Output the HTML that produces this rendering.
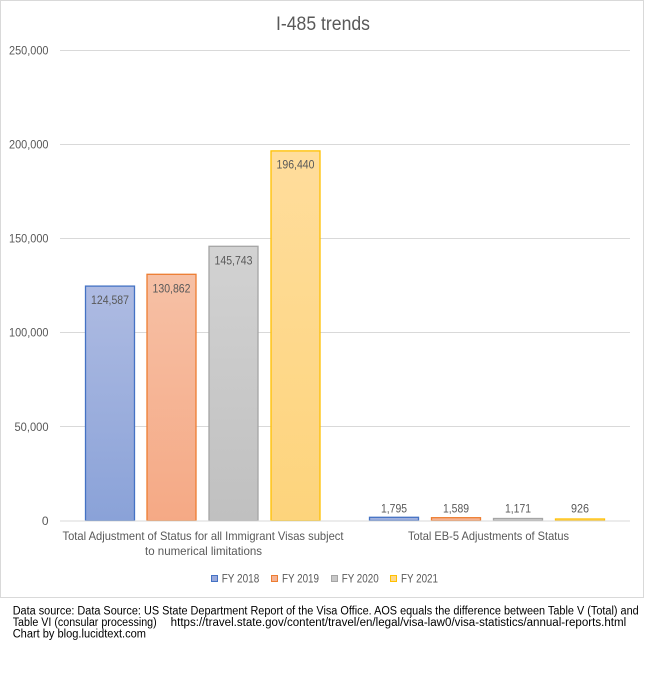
<!DOCTYPE html>
<html><head><meta charset="utf-8"><style>
html,body{margin:0;padding:0;background:#fff;}
svg{display:block;}
text{font-family:"Liberation Sans",sans-serif;}
</style></head><body>
<svg width="645" height="674" viewBox="0 0 645 674" xmlns="http://www.w3.org/2000/svg">
<defs>
<linearGradient id="gb" x1="0" y1="0" x2="0" y2="1"><stop offset="0" stop-color="#aebbe2"/><stop offset="1" stop-color="#8aa2d8"/></linearGradient>
<linearGradient id="go" x1="0" y1="0" x2="0" y2="1"><stop offset="0" stop-color="#f6c0a5"/><stop offset="1" stop-color="#f5a985"/></linearGradient>
<linearGradient id="gg" x1="0" y1="0" x2="0" y2="1"><stop offset="0" stop-color="#d2d2d2"/><stop offset="1" stop-color="#c0c0c0"/></linearGradient>
<linearGradient id="gy" x1="0" y1="0" x2="0" y2="1"><stop offset="0" stop-color="#ffdd9c"/><stop offset="1" stop-color="#fdd47c"/></linearGradient>
</defs>
<rect x="0.5" y="0.5" width="643" height="597" fill="#fff" stroke="#d9d9d9" stroke-width="1"/>
<text x="323" y="30" font-size="19" fill="#595959" text-anchor="middle" textLength="94" lengthAdjust="spacingAndGlyphs">I-485 trends</text>
<g stroke="#d9d9d9" stroke-width="1">
<line x1="60" y1="50.5" x2="630" y2="50.5"/>
<line x1="60" y1="144.5" x2="630" y2="144.5"/>
<line x1="60" y1="238.5" x2="630" y2="238.5"/>
<line x1="60" y1="332.5" x2="630" y2="332.5"/>
<line x1="60" y1="426.5" x2="630" y2="426.5"/>
</g>
<g font-size="12" fill="#595959" text-anchor="end">
<text x="48.5" y="54.5" textLength="39.5" lengthAdjust="spacingAndGlyphs">250,000</text>
<text x="48.5" y="148.5" textLength="39.5" lengthAdjust="spacingAndGlyphs">200,000</text>
<text x="48.5" y="242.5" textLength="39.5" lengthAdjust="spacingAndGlyphs">150,000</text>
<text x="48.5" y="336.5" textLength="39.5" lengthAdjust="spacingAndGlyphs">100,000</text>
<text x="48.5" y="431" textLength="34" lengthAdjust="spacingAndGlyphs">50,000</text>
<text x="48.5" y="525">0</text>
</g>
<g stroke-width="1.3">
<rect x="85.5" y="286.1" width="49" height="234.6" fill="url(#gb)" stroke="#4472c4"/>
<rect x="147" y="274.3" width="49" height="246.4" fill="url(#go)" stroke="#ed7d31"/>
<rect x="209" y="246.3" width="49" height="274.4" fill="url(#gg)" stroke="#a5a5a5"/>
<rect x="271" y="150.9" width="49" height="369.8" fill="url(#gy)" stroke="#ffc000"/>
<rect x="369.5" y="517.3" width="49" height="3.4" fill="url(#gb)" stroke="#4472c4"/>
<rect x="431.5" y="517.7" width="49" height="3" fill="url(#go)" stroke="#ed7d31"/>
<rect x="493.5" y="518.5" width="49" height="2.2" fill="url(#gg)" stroke="#a5a5a5"/>
<rect x="555.5" y="519" width="49" height="1.7" fill="url(#gy)" stroke="#ffc000"/>
</g>
<line x1="60" y1="521" x2="630" y2="521" stroke="#d9d9d9" stroke-width="1"/>
<g font-size="12" fill="#595959" text-anchor="middle">
<text x="110" y="304" textLength="38" lengthAdjust="spacingAndGlyphs">124,587</text>
<text x="171.5" y="292.3" textLength="38" lengthAdjust="spacingAndGlyphs">130,862</text>
<text x="233.5" y="264.3" textLength="38" lengthAdjust="spacingAndGlyphs">145,743</text>
<text x="295.5" y="168.5" textLength="38" lengthAdjust="spacingAndGlyphs">196,440</text>
<text x="394" y="512.5" textLength="26" lengthAdjust="spacingAndGlyphs">1,795</text>
<text x="456" y="512.5" textLength="26" lengthAdjust="spacingAndGlyphs">1,589</text>
<text x="518" y="512.5" textLength="26" lengthAdjust="spacingAndGlyphs">1,171</text>
<text x="580" y="512.5" textLength="18" lengthAdjust="spacingAndGlyphs">926</text>
<text x="203" y="540" textLength="281" lengthAdjust="spacingAndGlyphs">Total Adjustment of Status for all Immigrant Visas subject</text>
<text x="203.5" y="555" textLength="117" lengthAdjust="spacingAndGlyphs">to numerical limitations</text>
<text x="488.5" y="540" textLength="161" lengthAdjust="spacingAndGlyphs">Total EB-5 Adjustments of Status</text>
</g>
<g stroke-width="1">
<rect x="211.5" y="575.5" width="6" height="6" fill="#98a9dc" stroke="#4472c4"/>
<rect x="271.5" y="575.5" width="6" height="6" fill="#f5b293" stroke="#ed7d31"/>
<rect x="331.5" y="575.5" width="6" height="6" fill="#c8c8c8" stroke="#a5a5a5"/>
<rect x="390.5" y="575.5" width="6" height="6" fill="#fed88a" stroke="#ffc000"/>
</g>
<g font-size="12" fill="#595959">
<text x="221.7" y="582.5" textLength="37.6" lengthAdjust="spacingAndGlyphs">FY 2018</text>
<text x="282" y="582.5" textLength="37" lengthAdjust="spacingAndGlyphs">FY 2019</text>
<text x="341.7" y="582.5" textLength="37" lengthAdjust="spacingAndGlyphs">FY 2020</text>
<text x="401" y="582.5" textLength="37" lengthAdjust="spacingAndGlyphs">FY 2021</text>
</g>
<g font-size="11.5" fill="#000">
<text x="12.7" y="614.3" textLength="626" lengthAdjust="spacingAndGlyphs">Data source: Data Source: US State Department Report of the Visa Office. AOS equals the difference between Table V (Total) and</text>
<text x="12.7" y="626" textLength="144" lengthAdjust="spacingAndGlyphs">Table VI (consular processing)</text>
<text x="170.7" y="626" textLength="455.5" lengthAdjust="spacingAndGlyphs">https://travel.state.gov/content/travel/en/legal/visa-law0/visa-statistics/annual-reports.html</text>
<text x="12.7" y="637.7" textLength="133.3" lengthAdjust="spacingAndGlyphs">Chart by blog.lucidtext.com</text>
</g>
</svg>
</body></html>
